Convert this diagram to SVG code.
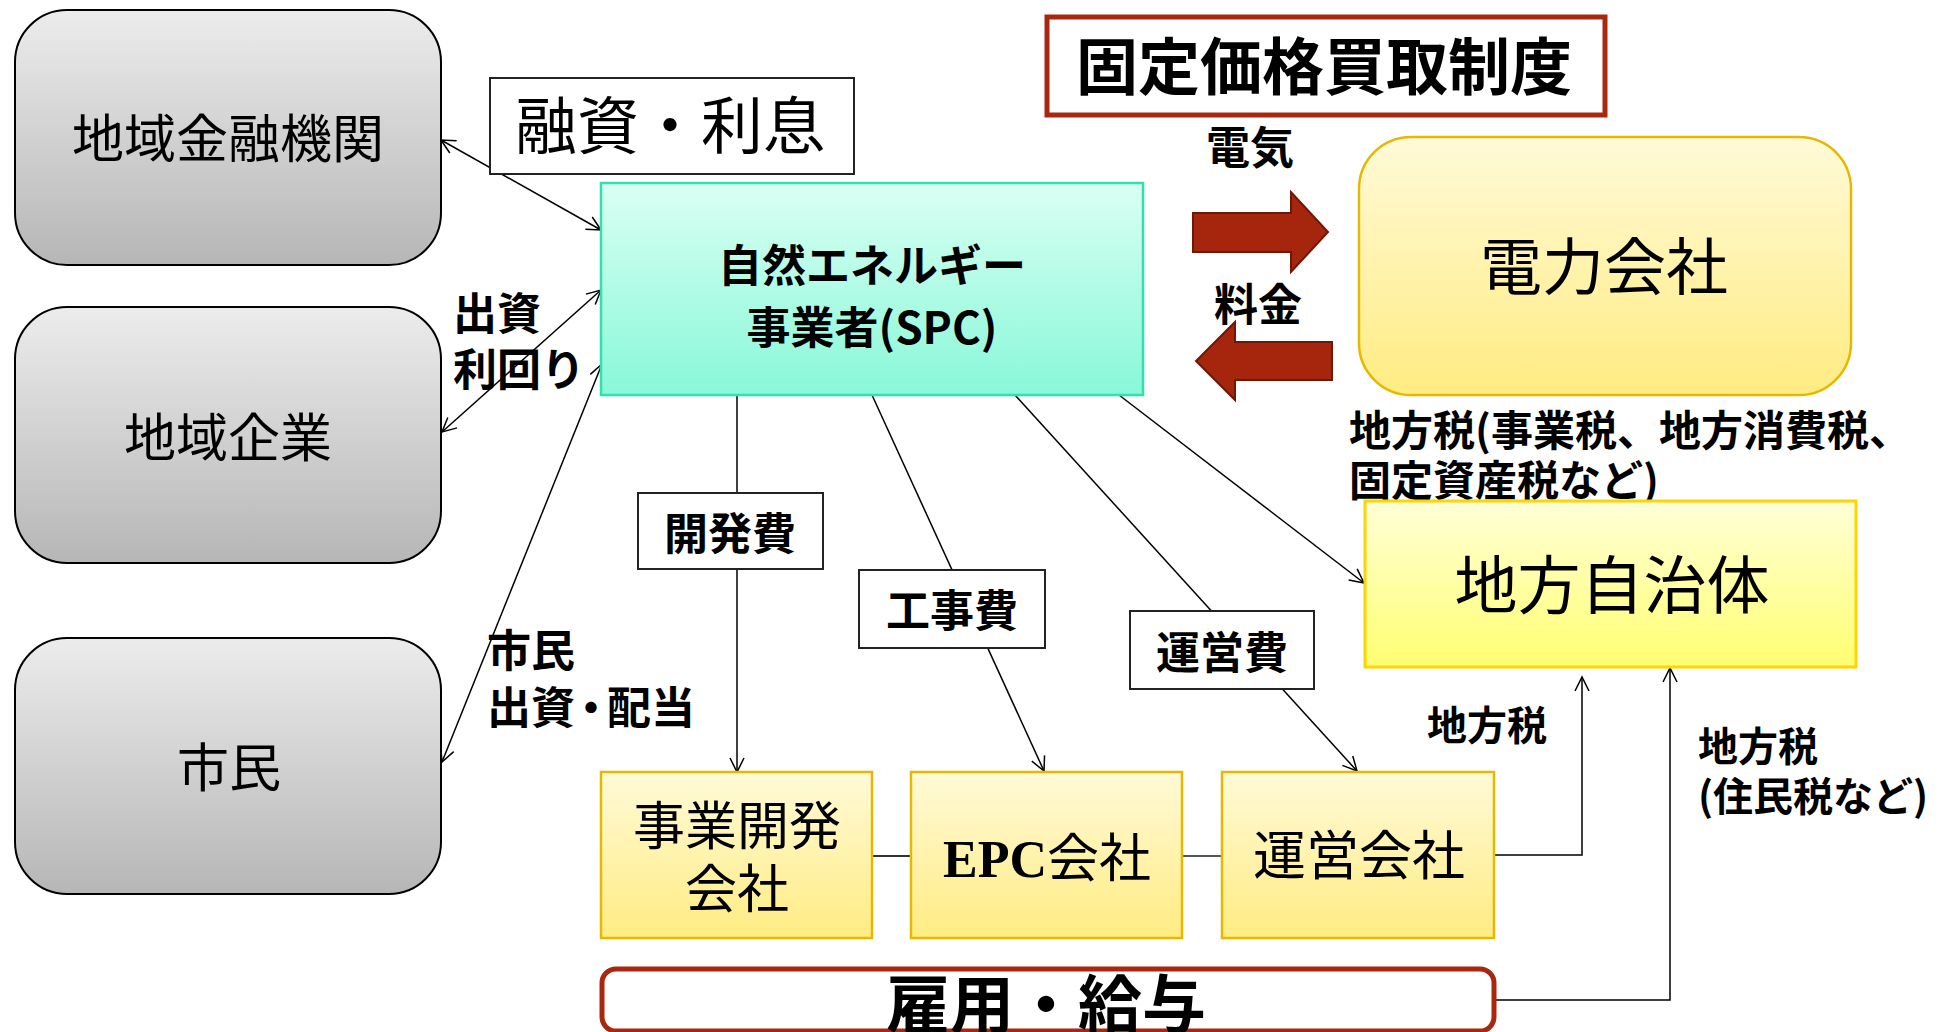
<svg xmlns="http://www.w3.org/2000/svg" width="1953" height="1032" viewBox="0 0 1953 1032">
<style>
.t{font-family:"Noto Sans CJK JP","Noto Sans",sans-serif;fill:#000}
.r{font-weight:400}
.b{font-weight:700}
.c{text-anchor:middle}
.gray{fill:url(#gGray);stroke:#000;stroke-width:2}
.ybox{fill:url(#gYel);stroke:#e6b800;stroke-width:2.5}
.lbl{fill:#fff;stroke:#222;stroke-width:2}
.ln{fill:none;stroke:#000;stroke-width:1.5}
.red{fill:#a5260d;stroke:#6e1808;stroke-width:2}
</style>
<defs>
<linearGradient id="gGray" x1="0" y1="0" x2="0" y2="1"><stop offset="0" stop-color="#ececec"/><stop offset="1" stop-color="#b6b6b6"/></linearGradient>
<linearGradient id="gSpc" x1="0" y1="0" x2="0" y2="1"><stop offset="0" stop-color="#dafff3"/><stop offset="1" stop-color="#88f8d8"/></linearGradient>
<linearGradient id="gYel" x1="0" y1="0" x2="0" y2="1"><stop offset="0" stop-color="#fffad8"/><stop offset="1" stop-color="#ffec82"/></linearGradient>
<linearGradient id="gLemon" x1="0" y1="0" x2="0" y2="1"><stop offset="0" stop-color="#ffffd8"/><stop offset="1" stop-color="#ffff72"/></linearGradient>
<marker id="arr" markerUnits="userSpaceOnUse" markerWidth="18" markerHeight="16" refX="15" refY="7" orient="auto-start-reverse" viewBox="0 0 18 14">
<path d="M1,0 L15,7 L1,14" fill="none" stroke="#000" stroke-width="1.5"/>
</marker>
</defs>
<rect width="1953" height="1032" fill="#fff"/>

<g id="connectors">
<line class="ln" x1="441" y1="140" x2="601" y2="230" marker-start="url(#arr)" marker-end="url(#arr)"/>
<line class="ln" x1="442" y1="432" x2="601" y2="290" marker-start="url(#arr)" marker-end="url(#arr)"/>
<line class="ln" x1="442" y1="762" x2="602" y2="364" marker-start="url(#arr)" marker-end="url(#arr)"/>
<line class="ln" x1="737" y1="395" x2="737" y2="772" marker-end="url(#arr)"/>
<line class="ln" x1="872" y1="395" x2="1044" y2="771" marker-end="url(#arr)"/>
<line class="ln" x1="1015" y1="395" x2="1357" y2="771" marker-end="url(#arr)"/>
<line class="ln" x1="1119" y1="395" x2="1364" y2="583" marker-end="url(#arr)"/>
<line x1="872" y1="856" x2="911" y2="856" stroke="#333" stroke-width="2"/>
<line x1="1182" y1="856" x2="1222" y2="856" stroke="#555" stroke-width="2"/>
<polyline class="ln" points="1494,855 1582,855 1582,677" stroke-width="2" marker-end="url(#arr)"/>
<polyline class="ln" points="1494,1000 1670,1000 1670,668" stroke-width="2.2" marker-end="url(#arr)"/>
<polygon class="red" points="1193,213 1291,213 1291,192 1328,232 1291,272 1291,252 1193,252"/>
<polygon class="red" points="1332,342 1235,342 1235,322 1196,361 1235,400 1235,380 1332,380"/>
</g>

<g id="node-kinyu">
<rect class="gray" x="15" y="10" width="426" height="255" rx="52" ry="52"/>
<text class="t r c" x="228" y="158" font-size="52">地域金融機関</text>
</g>
<g id="node-kigyo">
<rect class="gray" x="15" y="307" width="426" height="256" rx="52" ry="52"/>
<text class="t r c" x="228" y="457" font-size="52">地域企業</text>
</g>
<g id="node-shimin">
<rect class="gray" x="15" y="638" width="426" height="256" rx="52" ry="52"/>
<text class="t r c" x="229" y="787" font-size="52">市民</text>
</g>

<g id="label-yushi">
<rect class="lbl" x="490" y="78" width="364" height="96"/>
<text class="t r c" x="670" y="149" font-size="62">融資・利息</text>
</g>

<g id="node-spc">
<rect x="601" y="183" width="542" height="212" fill="url(#gSpc)" stroke="#30e0b0" stroke-width="2.5"/>
<text class="t b c" x="872" y="282" font-size="44">自然エネルギー</text>
<text class="t b c" x="872" y="344" font-size="44">事業者(SPC)</text>
</g>

<g id="title-fit">
<rect x="1047" y="17" width="558" height="98" fill="#fff" stroke="#a8280f" stroke-width="5"/>
<text class="t b c" x="1324" y="90" font-size="62">固定価格買取制度</text>
</g>

<g id="label-denki"><text class="t b c" x="1250" y="164" font-size="44">電気</text></g>
<g id="label-ryokin"><text class="t b c" x="1258" y="321" font-size="44">料金</text></g>

<g id="node-denryoku">
<rect x="1359" y="137" width="492" height="258" rx="52" ry="52" fill="url(#gYel)" stroke="#e6b800" stroke-width="2.5"/>
<text class="t r c" x="1604" y="290" font-size="62">電力会社</text>
</g>

<g id="label-chihozei1">
<text class="t b" x="1349" y="446" font-size="42">地方税(事業税、地方消費税、</text>
<text class="t b" x="1349" y="496" font-size="42">固定資産税など)</text>
</g>

<g id="node-jichitai">
<rect x="1365" y="501" width="491" height="166" fill="url(#gLemon)" stroke="#ffd400" stroke-width="3"/>
<text class="t r c" x="1612" y="608" font-size="63">地方自治体</text>
</g>

<g id="label-shusshi">
<text class="t b" x="453" y="330" font-size="44">出資</text>
<text class="t b" x="453" y="386" font-size="44">利回り</text>
</g>
<g id="label-shimin">
<text class="t b" x="487" y="667" font-size="44">市民</text>
<text class="t b" x="487" y="724" font-size="44">出資<tspan dx="-6">・</tspan><tspan dx="-6">配当</tspan></text>
</g>

<g id="label-kaihatsuhi">
<rect class="lbl" x="638" y="493" width="185" height="76"/>
<text class="t b c" x="730" y="550" font-size="44">開発費</text>
</g>
<g id="label-kojihi">
<rect class="lbl" x="859" y="570" width="186" height="78"/>
<text class="t b c" x="952" y="627" font-size="44">工事費</text>
</g>
<g id="label-uneihi">
<rect class="lbl" x="1130" y="611" width="184" height="78"/>
<text class="t b c" x="1222" y="669" font-size="44">運営費</text>
</g>

<g id="node-jigyokaihatsu">
<rect class="ybox" x="601" y="772" width="271" height="166"/>
<text class="t r c" x="737" y="845" font-size="52">事業開発</text>
<text class="t r c" x="737" y="908" font-size="52">会社</text>
</g>
<g id="node-epc">
<rect class="ybox" x="911" y="772" width="271" height="166"/>
<text class="t c" x="1047" y="877" font-size="52"><tspan font-family="Liberation Serif" font-weight="700">EPC</tspan><tspan class="r">会社</tspan></text>
</g>
<g id="node-unei">
<rect class="ybox" x="1222" y="772" width="272" height="166"/>
<text class="t r c" x="1359" y="875" font-size="53">運営会社</text>
</g>

<g id="label-chihozei2"><text class="t b" x="1427" y="740" font-size="40">地方税</text></g>
<g id="label-chihozei3">
<text class="t b" x="1698" y="761" font-size="40">地方税</text>
<text class="t b" x="1698" y="811" font-size="40">(住民税など)</text>
</g>

<g id="node-koyo">
<rect x="602" y="969" width="892" height="62" rx="14" ry="14" fill="#fff" stroke="#a8280f" stroke-width="5"/>
<text class="t b c" x="1046" y="1028" font-size="64">雇用・給与</text>
</g>
</svg>
